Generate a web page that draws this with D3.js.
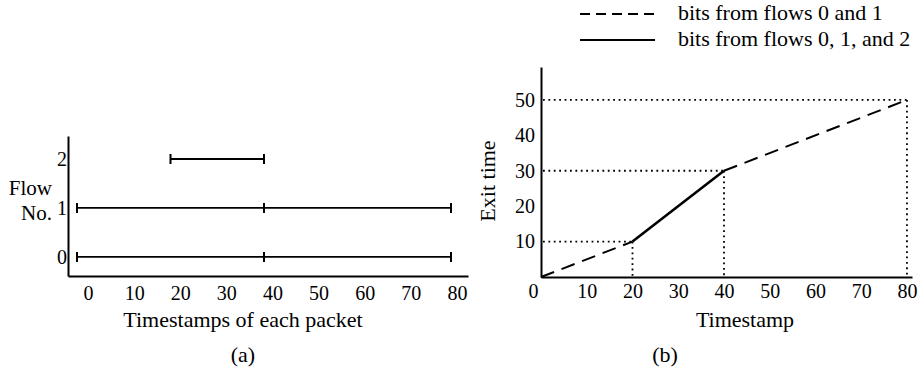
<!DOCTYPE html>
<html>
<head>
<meta charset="utf-8">
<script src="https://cdn.jsdelivr.net/npm/d3@7"></script>
<style>
  body { margin: 0; background: #fff; }
  svg text { font-family: "Liberation Serif", "Times New Roman", serif; fill: #000; }
</style>
</head>
<body>
<div id="root"></div>
<script>
// data
const flowIds = [0, 1, 2];
const flowTimestamps = [[0, 40, 80], [0, 40, 80], [20, 40]];
const timestampTicks = [0, 10, 20, 30, 40, 50, 60, 70, 80];

const exitTimestamps = [0, 20, 40, 80];
const exitTimes = [0, 10, 30, 50];
const segmentFlows = ["0 and 1", "0, 1, and 2", "0 and 1"];
const exitTicks = [10, 20, 30, 40, 50];
const legendFlows = ["0 and 1", "0, 1, and 2"];

const width = 922, height = 368;

const svg = d3.select("#root")
  .append("svg")
    .attr("width", width)
    .attr("height", height);

// ---------- (a) ----------
const xA = d3.scaleLinear().domain([0, 80]).range([77, 451]);
// tick labels in the figure sit a bit right of the marks
const xALabels = d3.scaleLinear().domain([-4.34, 82.4]).range([68, 468]);
const yA = d3.scaleLinear().domain([-0.39, 2.47]).range([276, 136]);

const gA = svg.append("g");

gA.append("g")
  .attr("transform", "translate(0," + yA.range()[0] + ")")
  .call(d3.axisBottom(xALabels).tickValues(timestampTicks).tickSize(0).tickPadding(10))
  .call(g => g.select(".domain").attr("stroke-width", 2))
  .selectAll("text")
    .style("font-size", "20px");

gA.append("g")
  .attr("transform", "translate(" + xALabels.range()[0] + ",0)")
  .call(d3.axisLeft(yA).tickValues(flowIds).tickSize(0).tickPadding(1).tickFormat(d3.format("d")))
  .call(g => g.select(".domain").attr("stroke-width", 2))
  .selectAll("text")
    .style("font-size", "20px");

// packets of each flow
const flowRows = gA.selectAll(".flow")
  .data(flowIds)
  .enter()
  .append("g")
    .attr("class", "flow");

flowRows.append("line")
  .attr("x1", d => xA(d3.min(flowTimestamps[d])))
  .attr("x2", d => xA(d3.max(flowTimestamps[d])))
  .attr("y1", d => yA(d))
  .attr("y2", d => yA(d))
  .attr("stroke", "#000")
  .attr("stroke-width", 1.8);

flowRows.selectAll(".mark")
  .data(d => flowTimestamps[d].map(t => ({ flow: d, t: t })))
  .enter()
  .append("line")
    .attr("x1", d => xA(d.t))
    .attr("x2", d => xA(d.t))
    .attr("y1", d => yA(d.flow) - 5)
    .attr("y2", d => yA(d.flow) + 5)
    .attr("stroke", "#000")
    .attr("stroke-width", 2);

gA.append("text")
  .attr("x", 52).attr("y", 195)
  .attr("text-anchor", "end")
  .style("font-size", "21px")
  .text("Flow");
gA.append("text")
  .attr("x", 52).attr("y", 220)
  .attr("text-anchor", "end")
  .style("font-size", "21px")
  .text("No.");

gA.append("text")
  .attr("x", 243).attr("y", 327)
  .attr("text-anchor", "middle")
  .style("font-size", "22px")
  .text("Timestamps of each packet");
gA.append("text")
  .attr("x", 243).attr("y", 362)
  .attr("text-anchor", "middle")
  .style("font-size", "22px")
  .text("(a)");

// ---------- (b) ----------
const xB = d3.scaleLinear().domain([0, 81.1]).range([541, 912]);
const yB = d3.scaleLinear().domain([0, 59.3]).range([277, 67]);

const gB = svg.append("g");

gB.append("g")
  .attr("transform", "translate(0," + yB(0) + ")")
  .call(d3.axisBottom(xB).tickValues(timestampTicks).tickSize(0).tickPadding(7))
  .call(g => g.select(".domain").attr("stroke-width", 2))
  .selectAll("text")
    .style("font-size", "20px")
    .attr("dx", d => d === 0 ? -8 : 0);

gB.append("g")
  .attr("transform", "translate(" + xB(0) + ",0)")
  .call(d3.axisLeft(yB).tickValues(exitTicks).tickSize(0).tickPadding(6))
  .call(g => g.select(".domain").attr("stroke-width", 2))
  .selectAll("text")
    .style("font-size", "20px");

// dotted guides
const guides = exitTimestamps.map((t, i) => ({ t: t, e: exitTimes[i] })).filter(d => d.t > 0);

gB.selectAll(".hguide")
  .data(guides)
  .enter()
  .append("line")
    .attr("class", "hguide")
    .attr("x1", xB(0) + 2)
    .attr("x2", d => xB(d.t))
    .attr("y1", d => yB(d.e))
    .attr("y2", d => yB(d.e))
    .attr("stroke", "#000")
    .attr("stroke-width", 1.8)
    .attr("stroke-dasharray", "1.8,3.6");

gB.selectAll(".vguide")
  .data(guides)
  .enter()
  .append("line")
    .attr("class", "vguide")
    .attr("x1", d => xB(d.t))
    .attr("x2", d => xB(d.t))
    .attr("y1", d => yB(d.e))
    .attr("y2", yB(0) - 1)
    .attr("stroke", "#000")
    .attr("stroke-width", 1.8)
    .attr("stroke-dasharray", "1.8,3.6");

// exit time segments
const segments = segmentFlows.map((f, i) => ({
  flows: f,
  pts: [[exitTimestamps[i], exitTimes[i]], [exitTimestamps[i + 1], exitTimes[i + 1]]]
}));

const segLine = d3.line().x(d => xB(d[0])).y(d => yB(d[1]));

gB.selectAll(".seg")
  .data(segments)
  .enter()
  .append("path")
    .attr("class", "seg")
    .attr("d", d => segLine(d.pts))
    .attr("fill", "none")
    .attr("stroke", "#000")
    .attr("stroke-width", d => d.flows === "0 and 1" ? 2 : 2.6)
    .attr("stroke-dasharray", d => d.flows === "0 and 1" ? "14,8" : null);

gB.append("text")
  .attr("x", 745).attr("y", 327)
  .attr("text-anchor", "middle")
  .style("font-size", "22px")
  .text("Timestamp");
gB.append("text")
  .attr("transform", "translate(495,181) rotate(-90)")
  .attr("text-anchor", "middle")
  .style("font-size", "22px")
  .text("Exit time");
gB.append("text")
  .attr("x", 665).attr("y", 362)
  .attr("text-anchor", "middle")
  .style("font-size", "22px")
  .text("(b)");

// legend
const legend = svg.append("g")
  .selectAll("g")
  .data(legendFlows)
  .enter()
  .append("g")
    .attr("transform", (d, i) => "translate(580," + (14 + i * 26) + ")");

legend.append("line")
  .attr("x1", 0).attr("x2", 75)
  .attr("stroke", "#000")
  .attr("stroke-width", d => d === "0 and 1" ? 1.8 : 2.2)
  .attr("stroke-dasharray", d => d === "0 and 1" ? "10,6" : null);

legend.append("text")
  .attr("x", 98).attr("y", 6)
  .style("font-size", "22px")
  .text(d => "bits from flows " + d);
</script>
</body>
</html>
